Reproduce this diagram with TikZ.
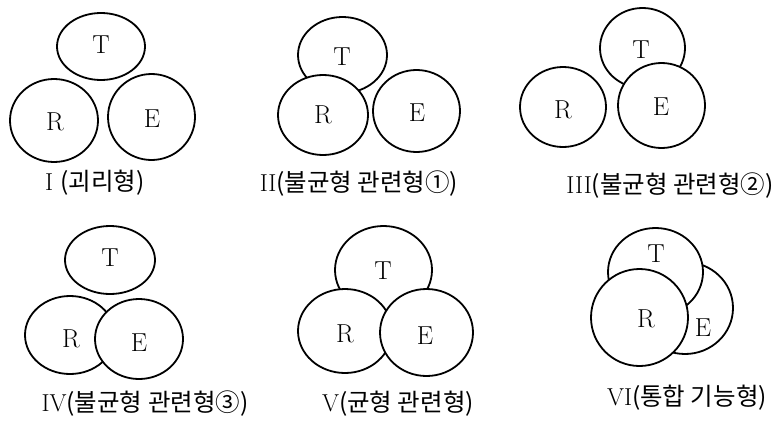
\documentclass[tikz,border=0pt]{standalone}
\usepackage{fontspec}
\newfontfamily\kr{Noto Sans CJK KR}
\usetikzlibrary{shapes.geometric}
\tikzset{
  circ/.style={ellipse, draw=black, line width=1.8pt, fill=white, inner sep=0pt},
  lett/.style={font=\fontsize{26}{26}\selectfont, inner sep=0pt},
  capt/.style={font=\fontsize{24.5}{24.5}\selectfont, inner sep=0pt}
}
\newcommand{\el}[6]{\node[circ, minimum width=#4pt, minimum height=#5pt] (#1) at (#2,#3) {};}
\begin{document}
\begin{tikzpicture}[x=1pt,y=-1pt]
\useasboundingbox (0,0) rectangle (778,423);
% Panel I
\el{aT}{101}{46.5}{88}{67}{}
\el{aR}{54}{120.5}{88}{83}{}
\el{aE}{151.5}{117}{87}{86}{}
\node[lett] (aTl) at (101,45) {T};
\node[lett] (aRl) at (55,122) {R};
\node[lett] (aEl) at (152,119) {E};
\node[capt] (acap) at (95,183) {I {\kr(괴리형)}};
% Panel II
\el{bT}{342.5}{55}{89}{76}{}
\el{bR}{323}{115}{90}{80}{}
\el{bE}{416.5}{111}{87}{82}{}
\node[lett] (bTl) at (342,57) {T};
\node[lett] (bRl) at (323,115) {R};
\node[lett] (bEl) at (417,113) {E};
\node[capt] (bcap) at (359,184) {II{\kr(불균형 관련형①)}};
% Panel III
\el{cR}{563}{107}{86}{80}{}
\el{cT}{642.5}{48}{85}{80}{}
\el{cE}{661.5}{105.5}{87}{85}{}
\node[lett] (cTl) at (641,50) {T};
\node[lett] (cRl) at (563,110) {R};
\node[lett] (cEl) at (661,107) {E};
\node[capt] (ccap) at (670,186) {III{\kr(불균형 관련형②)}};
% Panel IV
\el{dT}{110}{260}{90}{68}{}
\el{dR}{70}{335}{90}{78}{}
\el{dE}{139}{339}{88}{80}{}
\node[lett] (dTl) at (110,258) {T};
\node[lett] (dRl) at (71,339) {R};
\node[lett] (dEl) at (139,343) {E};
\node[capt] (dcap) at (145,404) {IV{\kr(불균형 관련형③)}};
% Panel V
\el{eT}{383.5}{270}{97}{88}{}
\el{eR}{345}{331}{94}{84}{}
\el{eE}{426.5}{332.5}{93}{87}{}
\node[lett] (eTl) at (383,271) {T};
\node[lett] (eRl) at (345,334) {R};
\node[lett] (eEl) at (425,336) {E};
\node[capt] (ecap) at (398,404) {V{\kr(균형 관련형)}};
% Panel VI
\el{fE}{685}{308}{96}{92}{}
\el{fT}{655.5}{272}{95}{88}{}
\el{fR}{639.5}{317.5}{97}{97}{}
\node[lett] (fTl) at (656,254) {T};
\node[lett] (fRl) at (646,319) {R};
\node[lett] (fEl) at (703,328) {E};
\node[capt] (fcap) at (687,398) {VI{\kr(통합 기능형)}};
\end{tikzpicture}
\end{document}
